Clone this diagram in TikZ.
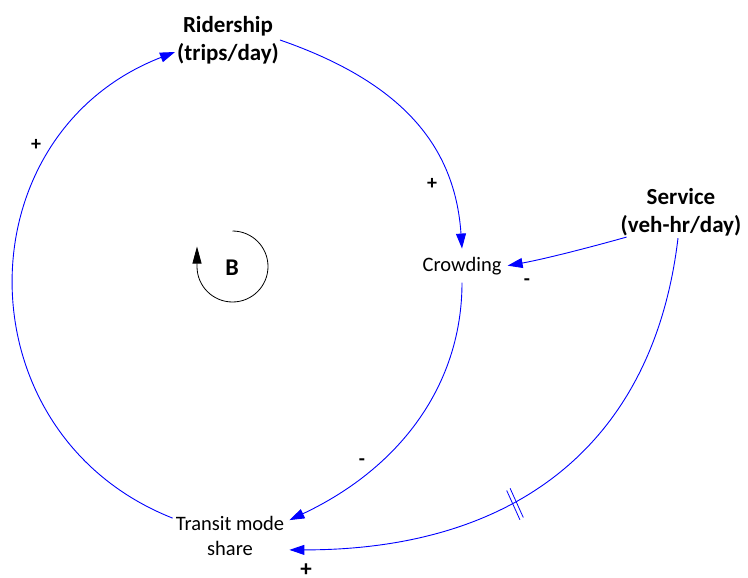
\documentclass[tikz,border=0pt]{standalone}
\usepackage{fontspec}
\setmainfont{Carlito}
\usetikzlibrary{arrows.meta}
\begin{document}
\begin{tikzpicture}[x=1pt,y=-1pt,
  varbold/.style={font=\fontsize{23}{28}\selectfont\bfseries, align=center, inner sep=0pt},
  varreg/.style={font=\fontsize{20.5}{25}\selectfont, align=center, inner sep=0pt},
  link/.style={draw=blue, line width=0.9pt, -{Triangle[length=15pt,width=10pt]}},
  pol/.style={font=\fontsize{20}{20}\selectfont\bfseries, inner sep=0pt},
  polbig/.style={font=\fontsize{23}{23}\selectfont\bfseries, inner sep=0pt}]
\useasboundingbox (0,0) rectangle (748,578);

\node[varbold] (rid) at (228,40) {Ridership\\(trips/day)};
\node[varreg, anchor=base, inner xsep=6pt, inner ysep=8pt] (crow) at (462,271) {Crowding};
\node[varbold] (serv) at (681,212) {Service\\(veh-hr/day)};
\node[varreg, inner xsep=5pt] (tms) at (230,536) {Transit mode\\share};
\node[font=\fontsize{24}{24}\selectfont\bfseries, inner sep=0pt] (bl) at (232,268) {B};

% loop marker
\draw[black, line width=0.8pt, -{Triangle[length=17pt,width=9pt]}]
  ([shift={(0.5,-37)}]bl.center) arc[start angle=-90, end angle=180, radius=35.5] -- ++(0,-20);

% connectors
\draw[link] ([shift={(1,0)}]rid.east) .. controls (401,82) and (455,145) .. (crow.north);
\draw[link] (crow.south) .. controls (462,383) and (402,467) .. ([shift={(0,4)}]tms.north east);
\draw[link] ([shift={(2,2)}]tms.north west) .. controls (-40,434) and (-39,135) .. ([shift={(-2,12)}]rid.west);
\draw[link] ([shift={(6,1)}]serv.south west) .. controls (595,246) and (545,259) .. (crow.east);
\draw[link] ([shift={(-3,2)}]serv.south) .. controls (654,441) and (519,550) .. ([shift={(0,-6)}]tms.south east);

% delay mark
\draw[blue, line width=0.8pt] (506.7,490.5) -- (519.9,519.7);
\draw[blue, line width=0.8pt] (510.1,488.3) -- (523.3,517.5);

% polarities
\node[pol] (p1) at (36,145) {+};
\node[pol] (p2) at (432,184) {+};
\node[pol] (p3) at (527,282) {-};
\node[pol] (p4) at (362,462) {-};
\node[polbig, anchor=south] (p5) at (306,577) {+};
\end{tikzpicture}
\end{document}
